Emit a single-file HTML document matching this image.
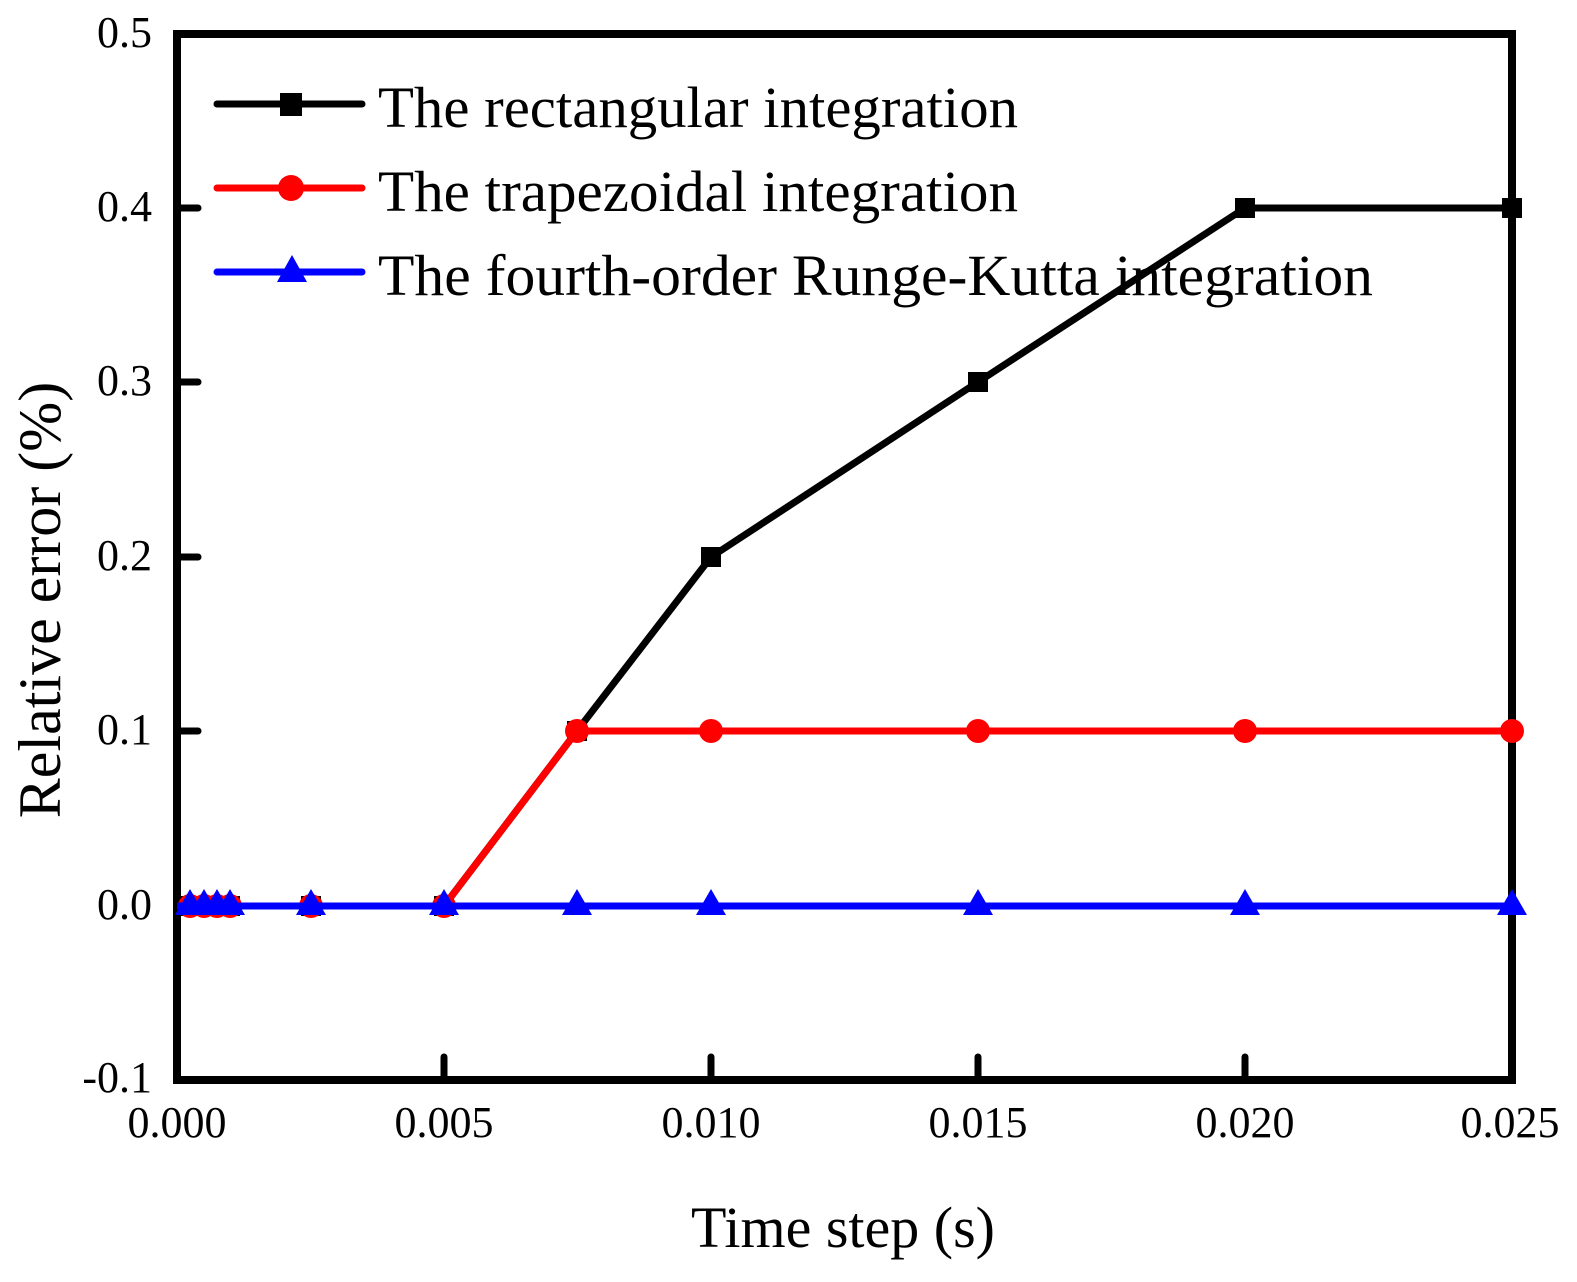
<!DOCTYPE html>
<html><head><meta charset="utf-8"><style>html,body{margin:0;padding:0;background:#fff;overflow:hidden}svg{display:block}</style></head>
<body>
<svg width="1577" height="1282" viewBox="0 0 1577 1282" xmlns="http://www.w3.org/2000/svg" font-family="'Liberation Serif', serif">
<rect width="1577" height="1282" fill="#fff"/>
<g stroke="#000" stroke-width="7" stroke-linecap="round">
<line x1="177" y1="208" x2="198" y2="208"/>
<line x1="177" y1="382" x2="198" y2="382"/>
<line x1="177" y1="557" x2="198" y2="557"/>
<line x1="177" y1="731" x2="198" y2="731"/>
<line x1="177" y1="906" x2="198" y2="906"/>
<line x1="444" y1="1080" x2="444" y2="1057"/>
<line x1="711" y1="1080" x2="711" y2="1057"/>
<line x1="978" y1="1080" x2="978" y2="1057"/>
<line x1="1245" y1="1080" x2="1245" y2="1057"/>
</g>
<rect x="177" y="34" width="1335" height="1046" fill="none" stroke="#000" stroke-width="8"/>
<g font-size="44" text-anchor="end">
<text x="152" y="47">0.5</text>
<text x="152" y="221">0.4</text>
<text x="152" y="395">0.3</text>
<text x="152" y="570">0.2</text>
<text x="152" y="744">0.1</text>
<text x="152" y="919">0.0</text>
<text x="152" y="1092">-0.1</text>
</g>
<g font-size="44" text-anchor="middle">
<text x="177" y="1137">0.000</text>
<text x="444" y="1137">0.005</text>
<text x="711" y="1137">0.010</text>
<text x="978" y="1137">0.015</text>
<text x="1245" y="1137">0.020</text>
<text x="1510" y="1137">0.025</text>
</g>
<text x="843" y="1247" font-size="58" text-anchor="middle">Time step (s)</text>
<text transform="translate(60,600) rotate(-90)" font-size="60" text-anchor="middle">Relative error (%)</text>
<polyline fill="none" stroke="#000" stroke-width="7" stroke-linejoin="round" points="190,906 204,906 217,906 230,906 311,906 444,906 577,731 711,557 978,382 1245,208 1512,208"/>
<g fill="#000">
<rect x="180" y="896" width="20" height="20"/><rect x="194" y="896" width="20" height="20"/><rect x="207" y="896" width="20" height="20"/><rect x="220" y="896" width="20" height="20"/><rect x="301" y="896" width="20" height="20"/><rect x="434" y="896" width="20" height="20"/>
<rect x="567" y="721" width="20" height="20"/><rect x="701" y="547" width="20" height="20"/><rect x="968" y="372" width="20" height="20"/><rect x="1235" y="198" width="20" height="20"/><rect x="1502" y="198" width="20" height="20"/>
</g>
<polyline fill="none" stroke="#f00" stroke-width="7" stroke-linejoin="round" points="190,906 204,906 217,906 230,906 311,906 444,906 577,731 711,731 978,731 1245,731 1512,731"/>
<g fill="#f00">
<circle cx="190" cy="906" r="12"/><circle cx="204" cy="906" r="12"/><circle cx="217" cy="906" r="12"/><circle cx="230" cy="906" r="12"/><circle cx="311" cy="906" r="12"/><circle cx="444" cy="906" r="12"/>
<circle cx="577" cy="731" r="12"/><circle cx="711" cy="731" r="12"/><circle cx="978" cy="731" r="12"/><circle cx="1245" cy="731" r="12"/><circle cx="1512" cy="731" r="12"/>
</g>
<line x1="177" y1="906" x2="1512" y2="906" stroke="#00f" stroke-width="7"/>
<g fill="#00f">
<polygon points="190,889 175,915 205,915"/><polygon points="204,889 189,915 219,915"/><polygon points="217,889 202,915 232,915"/><polygon points="230,889 215,915 245,915"/><polygon points="311,889 296,915 326,915"/><polygon points="444,889 429,915 459,915"/>
<polygon points="577,889 562,915 592,915"/><polygon points="711,889 696,915 726,915"/><polygon points="978,889 963,915 993,915"/><polygon points="1245,889 1230,915 1260,915"/><polygon points="1512,889 1497,915 1527,915"/>
</g>
<g stroke-width="7" stroke-linecap="round">
<line x1="217" y1="104" x2="362" y2="104" stroke="#000"/>
<line x1="217" y1="188" x2="362" y2="188" stroke="#f00"/>
<line x1="217" y1="272" x2="362" y2="272" stroke="#00f"/>
</g>
<rect x="280" y="93" width="22" height="23" fill="#000"/>
<circle cx="291" cy="188" r="13" fill="#f00"/>
<polygon points="292,255 277,282 307,282" fill="#00f"/>
<g font-size="58">
<text x="378" y="127" textLength="640" lengthAdjust="spacingAndGlyphs">The rectangular integration</text>
<text x="378" y="211" textLength="640" lengthAdjust="spacingAndGlyphs">The trapezoidal integration</text>
<text x="378" y="295" textLength="995" lengthAdjust="spacingAndGlyphs">The fourth-order  Runge-Kutta integration</text>
</g>
</svg>
</body></html>
